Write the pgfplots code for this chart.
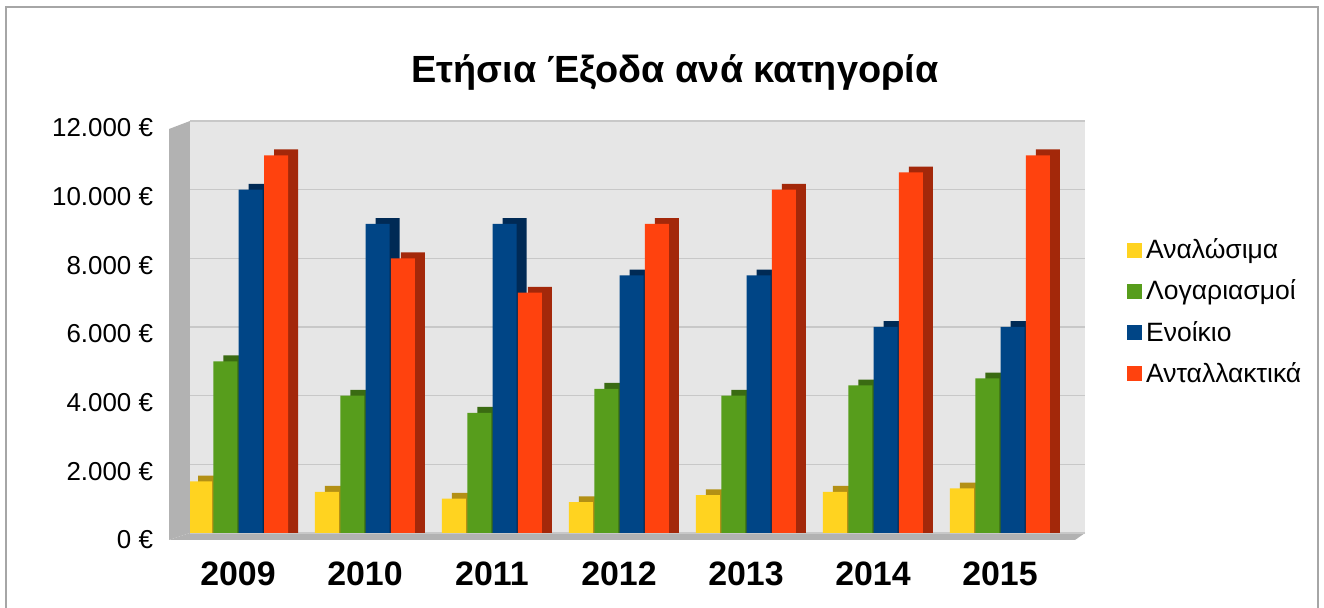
\documentclass[border=0pt]{standalone}
\usepackage{fontspec}
\setmainfont{Liberation Sans}
\usepackage{pgfplots}
\usepackage{pgfplotstable}
\pgfplotsset{compat=1.18}
\definecolor{cY}{HTML}{FFD320}
\definecolor{cG}{HTML}{579D1C}
\definecolor{cB}{HTML}{004586}
\definecolor{cR}{HTML}{FF420E}
\definecolor{dY}{HTML}{B39015}
\definecolor{dG}{HTML}{3A6B12}
\definecolor{dB}{HTML}{002A55}
\definecolor{dR}{HTML}{A3280A}
\definecolor{wallc}{HTML}{E6E6E6}
\definecolor{gridc}{HTML}{C8C8C8}
\pgfplotstableread{
x a b c d
0 1500 5000 10000 11000
1 1200 4000 9000 8000
2 1000 3500 9000 7000
3 900 4200 7500 9000
4 1100 4000 7500 10000
5 1200 4300 6000 10500
6 1300 4500 6000 11000
}\data
\begin{document}
\begin{tikzpicture}
\useasboundingbox (0,0) rectangle (662bp,304bp);
\draw[gray!70, line width=0.8bp] (3bp,-5bp) rectangle (659bp,300.5bp);
\fill[gray!60] (84.5bp,34bp) -- (84.5bp,239.5bp) -- (95bp,243.5bp) -- (95bp,37.5bp) -- cycle;
\fill[gray!60] (95bp,37.5bp) -- (542.5bp,37.5bp) -- (537.5bp,34bp) -- (84.5bp,34bp) -- cycle;
\begin{axis}[at={(95bp,37.5bp)}, anchor=south west, scale only axis,
  width=447.5bp, height=206bp,
  xmin=-0.378, xmax=6.67, ymin=0, ymax=12000,
  axis background/.style={fill=wallc},
  axis line style={draw=none},
  ybar, bar width=12bp,
  major tick length=0pt,
  scaled y ticks=false,
  xtick={0,...,6}, xticklabels={2009,2010,2011,2012,2013,2014,2015},
  xticklabel style={font=\bfseries\fontsize{17}{19}\selectfont, yshift=-11bp},
  ytick={0,2000,...,12000},
  ymajorgrids, grid style={gridc, line width=0.8bp},
  /pgf/number format/.cd, fixed, 1000 sep={.}, assume math mode=true, /pgfplots/.cd,
  yticklabel={\pgfmathprintnumber{\tick}~€},
  yticklabel style={font=\fontsize{13}{15}\selectfont, xshift=-15bp, yshift=-3.5bp},
  legend style={at={(1.04,0.735)}, anchor=north west, draw=none, fill=none,
    font=\fontsize{13.3}{16}\selectfont, row sep=5.2bp},
  legend cell align=left,
  legend image code/.code={\fill[#1] (0bp,-3.75bp) rectangle (7.5bp,3.75bp);},
]
\addplot[fill=dY, draw=none, bar shift=-14bp, forget plot] table[x=x, y expr=\thisrow{a}+170]{\data};
\addplot[fill=cY, draw=none, bar shift=-19bp] table[x=x, y=a]{\data};
\addplot[fill=dG, draw=none, bar shift=-1.33bp, forget plot] table[x=x, y expr=\thisrow{b}+170]{\data};
\addplot[fill=cG, draw=none, bar shift=-6.33bp] table[x=x, y=b]{\data};
\addplot[fill=dB, draw=none, bar shift=11.33bp, forget plot] table[x=x, y expr=\thisrow{c}+170]{\data};
\addplot[fill=cB, draw=none, bar shift=6.33bp] table[x=x, y=c]{\data};
\addplot[fill=dR, draw=none, bar shift=24bp, forget plot] table[x=x, y expr=\thisrow{d}+170]{\data};
\addplot[fill=cR, draw=none, bar shift=19bp] table[x=x, y=d]{\data};
\legend{Αναλώσιμα, Λογαριασμοί, Ενοίκιο, Ανταλλακτικά}
\end{axis}
\node[font=\bfseries\fontsize{19}{23}\selectfont] at (337.5bp,268bp) {Ετήσια Έξοδα ανά κατηγορία};
\end{tikzpicture}
\end{document}
